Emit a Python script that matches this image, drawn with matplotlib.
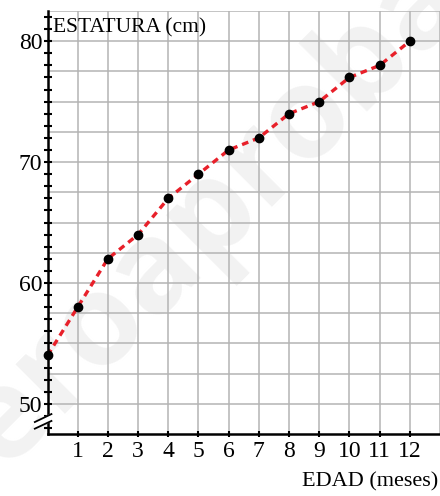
import matplotlib
matplotlib.use("Agg")
import matplotlib.pyplot as plt
from matplotlib.ticker import MultipleLocator

# datos: estatura (cm) segun edad (meses)
edad = [0, 1, 2, 3, 4, 5, 6, 7, 8, 9, 10, 11, 12]
estatura = [54, 58, 62, 64, 67, 69, 71, 72, 74, 75, 77, 78, 80]
xticks = [1, 2, 3, 4, 5, 6, 7, 8, 9, 10, 11, 12]
yticks = [50, 60, 70, 80]

plt.rcParams['font.family'] = ['Liberation Serif', 'DejaVu Serif']

fig = plt.figure(figsize=(4.4, 4.96), dpi=100)
ax = fig.add_axes([47.5 / 440, 62 / 496, 1 - 47.5 / 440, 423 / 496])

# marca de agua (debajo de todo)
ax.text(0.48, 0.565, "ceroaprobar", fontsize=92, color="#f2f2f2",
        fontweight="bold", rotation=45, ha="center", va="center",
        rotation_mode="anchor", family=["Open Sans", "DejaVu Sans"],
        transform=fig.transFigure, zorder=0, clip_on=False)

ax.set_xlim(0, 13)
ax.set_ylim(47.5, 82.5)

# cuadricula
for gx in range(1, 14):
    ax.axvline(gx, color="#b4b4b4", lw=1.1, zorder=1)
gy = 50.0
while gy <= 82.5:
    ax.axhline(gy, color="#b4b4b4", lw=1.1, zorder=1)
    gy += 2.5

ax.plot(edad, estatura, color="#e8202a", lw=2.4, linestyle=(0, (2.0, 1.5)),
        zorder=3, clip_on=False)
ax.plot(edad, estatura, "o", color="black", ms=6, zorder=4, clip_on=False)

for s in ["top", "right"]:
    ax.spines[s].set_visible(False)
for s in ["left", "bottom"]:
    ax.spines[s].set_linewidth(1.8)
    ax.spines[s].set_zorder(5)

ax.set_xticks(xticks)
ax.set_yticks(yticks)
ax.yaxis.set_minor_locator(MultipleLocator(1))
ax.tick_params(axis="both", which="both", direction="inout", width=1.5,
               labelsize=17, colors="black")
ax.tick_params(axis="y", which="both", length=5.4, pad=1)
ax.tick_params(axis="x", which="both", length=4.5, pad=3)

# corte del eje
ax.fill([-0.42, 0.13, 0.13, -0.42], [48.49, 49.15, 48.58, 47.94],
        color="white", zorder=6, clip_on=False)
ax.plot([-0.42, 0.13], [48.49, 49.15], color="black", lw=1.3, zorder=7, clip_on=False)
ax.plot([-0.42, 0.13], [47.94, 48.58], color="black", lw=1.3, zorder=7, clip_on=False)

ax.text(53 / 440, 1 - 28 / 496, "ESTATURA (cm)", fontsize=15.5, ha="left",
        va="center", transform=fig.transFigure, zorder=8)
ax.text(438 / 440, 1 - 482 / 496, "EDAD (meses)", fontsize=16, ha="right",
        va="center", transform=fig.transFigure, clip_on=False, zorder=8)

fig.savefig("out.png", dpi=100)
